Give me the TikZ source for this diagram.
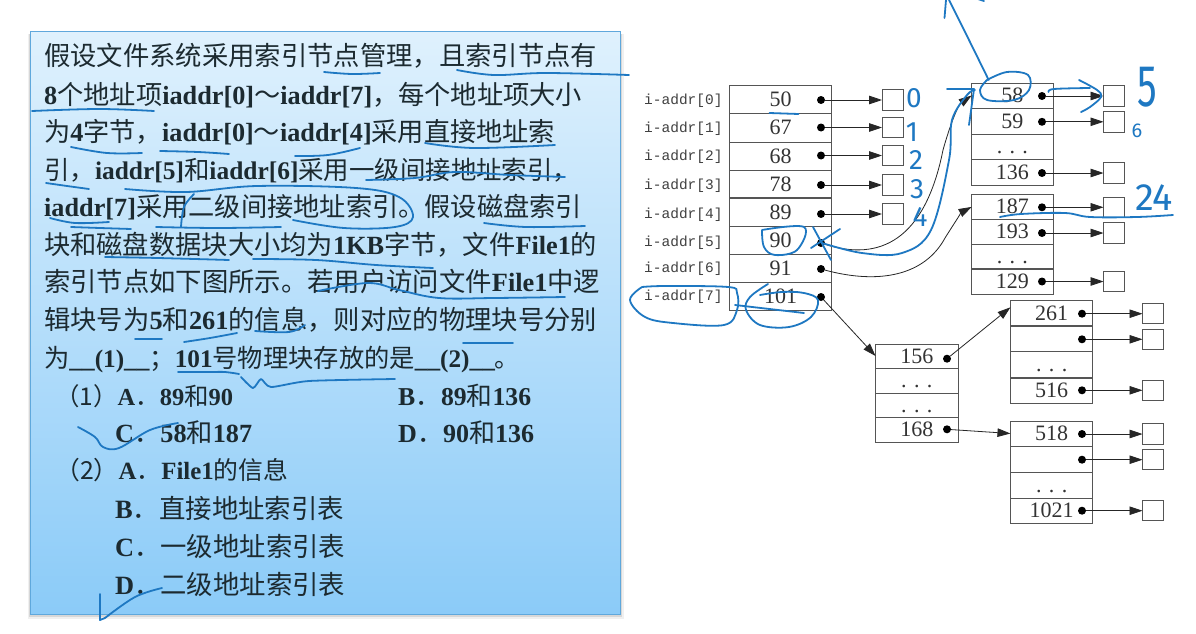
\documentclass[tikz,border=0pt]{standalone}
\usepackage{fontspec}
\setmainfont{Noto Sans CJK SC}
\newfontfamily\latb[BoldFont={Liberation Serif Bold}]{Liberation Serif}
\newfontfamily\serifn{Liberation Serif}
\newfontfamily\monon{Liberation Mono}
\newfontfamily\handn{Fira Sans}
\usetikzlibrary{arrows.meta}
\definecolor{ink}{HTML}{1E78C2}
\definecolor{gridc}{HTML}{555555}
\definecolor{txtc}{HTML}{1C2A30}
\definecolor{paneltop}{HTML}{DFF1FD}
\definecolor{panelmid}{HTML}{B5DFFB}
\definecolor{panelbot}{HTML}{8BCBF8}
\definecolor{panelline}{HTML}{5FA8DC}
\newcommand{\lat}[1]{{\latb\bfseries #1}}
\tikzset{
  x=1pt,y=-1pt,
  cell/.style={draw=gridc,line width=1pt,inner sep=0,outer sep=0,text height=16pt,text depth=2pt,font=\serifn\fontsize{22}{22}\selectfont,text=black!80},
  slot/.style={draw=gridc,line width=1pt,minimum width=21pt,minimum height=20.5pt,inner sep=0,outer sep=0},
  pin/.style={circle,fill=black,minimum size=8pt,inner sep=0,outer sep=0},
  arr/.style={draw=black!85,line width=.8pt,-{Triangle[length=13pt,width=8.5pt]}},
  lab/.style={anchor=west,inner sep=0,font=\monon\fontsize{14.5}{14.5}\selectfont,text=black!75},
  ink/.style={draw=ink,line width=1.8pt,line cap=round,line join=round},
  hand/.style={inner sep=0,text=ink,font=\handn\fontsize{28}{28}\selectfont},
  para/.style={anchor=base west,inner sep=0,text=txtc,font=\fontsize{24}{24}\selectfont}
}
% name, left x, baseline y, width, content
\newcommand{\tline}[5]{\node[para] (#1) at (#2,#3) {\resizebox{#4pt}{!}{#5}};}
% name, center x, center y, width, height, text
\newcommand{\rowc}[6]{\node[cell,minimum width=#4pt,minimum height=#5pt] (#1) at (#2,#3) {#6};}
\newcommand{\inkp}[1]{\draw[ink] plot[smooth,tension=.6] coordinates {#1};}
\begin{document}
\begin{tikzpicture}
\useasboundingbox (0,0) rectangle (1196,634);
\fill[white] (0,0) rectangle (1196,634);
% panel
\fill[black,opacity=.06] (28,34) rectangle (624,619);
\fill[black,opacity=.10] (29,34) rectangle (622,617);
\shade[top color=paneltop,middle color=panelmid,bottom color=panelbot,draw=panelline,line width=.8pt] (30.5,31.5) rectangle (620,614);
% text
\tline{t1}{44}{66}{553}{假设文件系统采用索引节点管理，且索引节点有}
\tline{t2}{44}{104}{538}{\lat{8}个地址项\lat{iaddr[0]}～\lat{iaddr[7]}，每个地址项大小}
\tline{t3}{44}{141}{511}{为\lat{4}字节，\lat{iaddr[0]}～\lat{iaddr[4]}采用直接地址索}
\tline{t4}{44}{179}{534}{引，\lat{iaddr[5]}和\lat{iaddr[6]}采用一级间接地址索引，}
\tline{t5}{44}{216}{538}{\lat{iaddr[7]}采用二级间接地址索引。假设磁盘索引}
\tline{t6}{44}{254}{553}{块和磁盘数据块大小均为\lat{1KB}字节，文件\lat{File1}的}
\tline{t7}{44}{291}{556}{索引节点如下图所示。若用户访问文件\lat{File1}中逻}
\tline{t8}{44}{329}{553}{辑块号为\lat{5}和\lat{261}的信息，则对应的物理块号分别}
\tline{t9}{44}{367}{476}{为\lat{\_\_(1)\_\_}；\lat{101}号物理块存放的是\lat{\_\_(2)\_\_}。}
\tline{o1a}{55}{405}{178}{（1）\lat{A}．\lat{89}和\lat{90}}
\tline{o1b}{398}{405}{133}{\lat{B}．\lat{89}和\lat{136}}
\tline{o1c}{115}{442}{137}{\lat{C}．\lat{58}和\lat{187}}
\tline{o1d}{398}{442}{136}{\lat{D}．\lat{90}和\lat{136}}
\tline{o2a}{55}{479}{233}{（2）\lat{A}．\lat{File1}的信息}
\tline{o2b}{115}{518}{229}{\lat{B}．直接地址索引表}
\tline{o2c}{115}{556}{230}{\lat{C}．一级地址索引表}
\tline{o2d}{115}{594}{230}{\lat{D}．二级地址索引表}
% table 1
\rowc{a0}{780.7}{99.8}{102.5}{28}{50}
\rowc{a1}{780.7}{127.9}{102.5}{28.2}{67}
\rowc{a2}{780.7}{156}{102.5}{28}{68}
\rowc{a3}{780.7}{184}{102.5}{28}{78}
\rowc{a4}{780.7}{212.3}{102.5}{28.7}{89}
\rowc{a5}{780.7}{240.7}{102.5}{28}{90}
\rowc{a6}{780.7}{268.8}{102.5}{28.3}{91}
\rowc{a7}{780.7}{296.8}{102.5}{27.7}{101}
\foreach \i/\yy in {0/100.5,1/128.5,2/156.5,3/185.5,4/214.5,5/243,6/269,7/297}{
  \node[lab] (l\i) at (644,\yy) {i-addr[\i]};
}
\foreach \i/\yy in {0/100,1/127.5,2/155.5,3/185,4/214}{
  \node[pin] (p\i) at (821,\yy) {};
  \node[slot] (s\i) at (892.5,\yy) {};
  \draw[arr] (p\i) -- (s\i);
}
\node[pin] (p5) at (821,243) {};
\node[pin] (p6) at (821,269) {};
\node[pin] (p7) at (821,297) {};
% table 2
\rowc{b0}{1012.4}{95.5}{81.5}{25}{58}
\rowc{b1}{1012.4}{121}{81.5}{26}{59}
\rowc{b2}{1012.4}{146.5}{81.5}{25}{. . .}
\rowc{b3}{1012.4}{172}{81.5}{26}{136}
\foreach \n/\yy/\s in {b0/96/q0,b1/121.8/q1,b3/173/q3}{
  \node[pin] (p\n) at (1042,\yy) {};
  \node[slot] (\s) at (1114,\yy) {};
  \draw[arr] (p\n) -- (\s);
}
% table 3
\rowc{c0}{1012.4}{206.9}{81.5}{24.3}{187}
\rowc{c1}{1012.4}{231.5}{81.5}{25}{193}
\rowc{c2}{1012.4}{256.5}{81.5}{25}{. . .}
\rowc{c3}{1012.4}{281.8}{81.5}{25.7}{129}
\foreach \n/\yy/\s in {c0/207.3/r0,c1/233/r1,c3/281.5/r3}{
  \node[pin] (p\n) at (1042,\yy) {};
  \node[slot] (\s) at (1114,\yy) {};
  \draw[arr] (p\n) -- (\s);
}
% table 4
\rowc{d0}{916.8}{356}{82.5}{24}{156}
\rowc{d1}{916.8}{380.5}{82.5}{25}{. . .}
\rowc{d2}{916.8}{405}{82.5}{24}{. . .}
\rowc{d3}{916.8}{429.5}{82.5}{25}{168}
\node[pin] (pd0) at (947,358.7) {};
\node[pin] (pd3) at (947,429.3) {};
% table 5
\rowc{e0}{1051.7}{313.3}{82.5}{25.3}{261}
\rowc{e1}{1051.7}{339}{82.5}{25.7}{}
\rowc{e2}{1051.7}{364.8}{82.5}{26.2}{. . .}
\rowc{e3}{1051.7}{390.5}{82.5}{25}{516}
\foreach \n/\yy/\s in {e0/313.7/u0,e1/339.3/u1,e3/390.3/u3}{
  \node[pin] (p\n) at (1082,\yy) {};
  \node[slot] (\s) at (1153,\yy) {};
  \draw[arr] (p\n) -- (\s);
}
% table 6
\rowc{f0}{1051.7}{433.5}{82.5}{25}{518}
\rowc{f1}{1051.7}{459}{82.5}{26}{}
\rowc{f2}{1051.7}{485}{82.5}{26}{. . .}
\rowc{f3}{1051.7}{510.8}{82.5}{25.6}{1021}
\foreach \n/\yy/\s in {f0/434/v0,f1/459.7/v1,f3/510.7/v3}{
  \node[pin] (p\n) at (1082,\yy) {};
  \node[slot] (\s) at (1153,\yy) {};
  \draw[arr] (p\n) -- (\s);
}
% links between tables
\draw[arr] (p5) .. controls (880,262) and (925,240) .. (943,150) .. controls (950,125) and (958,105) .. (b0.west);
\draw[arr] (p6) .. controls (880,285) and (925,275) .. (945,238) .. controls (955,222) and (962,212) .. (c0.west);
\draw[arr] (p7) -- (d0.west);
\draw[arr] (pd0) -- ([yshift=6pt]e0.west);
\draw[arr] (pd3) -- (f0.west);
% ---- handwriting on the diagram
\inkp{(988.7,80)(968,38)(949,0)}
\draw[ink] (944.5,18) -- (946,0);
\draw[ink] (984,1) -- (978,-1);
\inkp{(987,80)(1007,72)(1028,75)(1029,90)(1014,100)(987,100)(980,90)(987,80)}
\inkp{(822,243)(862,253)(902,253)(931,230)(949,160)(952,120)(967,95)(975,90)}
\draw[ink] (947,89) -- (974,89) -- (969,125);
\draw[ink] (813,227) -- (831,260);
\draw[ink] (811,248) -- (840,229);
\inkp{(762,230)(804,227)(797,250)(775,255)(764,247)(762,230)}
\draw[ink] (769.5,113) -- (798.5,114);
\node[hand] (h0) at (914,98) {0};
\node[hand] (h1) at (912,132) {1};
\node[hand] (h2) at (916,160) {2};
\node[hand] (h3) at (917,189) {3};
\node[hand] (h4) at (920,217) {4};
\node[hand] (h5) at (1147,87) {\scalebox{1.4}[2.1]{5}};
\node[hand] (h6) at (1137,131) {\fontsize{20}{20}\selectfont 6};
\node[hand] (h24) at (1154,198) {\fontsize{38}{38}\selectfont 24};
\inkp{(1048.5,92)(1054,89)(1090,88)}
\inkp{(1079,80)(1097,90)(1101,97)(1090,107)(1081,112)}
\inkp{(1000,217)(1021,214)(1065,213)(1090,217)(1137,217)(1173,215)}
\inkp{(642,287)(630,300)(645,317)(673,323)(724,325)(737,310)(737,293)(728,287)(666,286)(642,287)}
\inkp{(768,284)(750,297)(746,310)(760,325)(789,327)(811,317)(818,300)(804,293)(782,292)(760,295)}
\draw[ink] (735,305) -- (804,313);
% ---- handwriting on the text
\inkp{(324,72)(352,74)(380,73)}
\inkp{(457,70)(494,75)(546,73)(629,75)}
\inkp{(32,111)(99,109)(154,111)}
\inkp{(71,147)(107,153)(142,153)}
\inkp{(160,151)(198,152)(229,154)}
\inkp{(295,156)(328,155)(360,148)}
\inkp{(425,143)(474,148)(555,145)}
\inkp{(46,183)(67,186)(89,189)}
\inkp{(366,180)(415,178)(455,172)(510,175)(565,177)}
\inkp{(125,189)(186,192)(257,186)(356,188)(399,197)(413,217)(395,227)(344,228)(293,220)}
\inkp{(194,194)(184,207)(181,227)}
\inkp{(156,227)(218,228)(281,227)}
\inkp{(50,218)(75,223)(109,222)}
\inkp{(71,227)(100,228)(131,229)}
\inkp{(484,223)(526,227)(585,226)}
\inkp{(105,257)(158,258)(229,260)}
\inkp{(253,259)(316,260)(376,265)(433,268)}
\inkp{(318,291)(368,283)(399,290)(439,298)(494,298)(565,297)}
\draw[ink] (135,339) -- (162,339);
\inkp{(184,342)(210,338)(237,333)}
\inkp{(255,331)(289,332)(305,325)}
\draw[ink] (463,343) -- (513,343);
\inkp{(178,372)(210,372)(225,372)(239,374)}
\draw[ink] plot[smooth,tension=.4] coordinates {(241,377)(253,388)(261,379)(271,387)(309,381)(395,379)};
\inkp{(78,427)(95,437)(103,447)(119,448)(150,430)(178,423)}
\draw[ink] (100,594) -- (100,620) -- (105,618);
\inkp{(105,618)(135,597)(162,588)}
\end{tikzpicture}
\end{document}
